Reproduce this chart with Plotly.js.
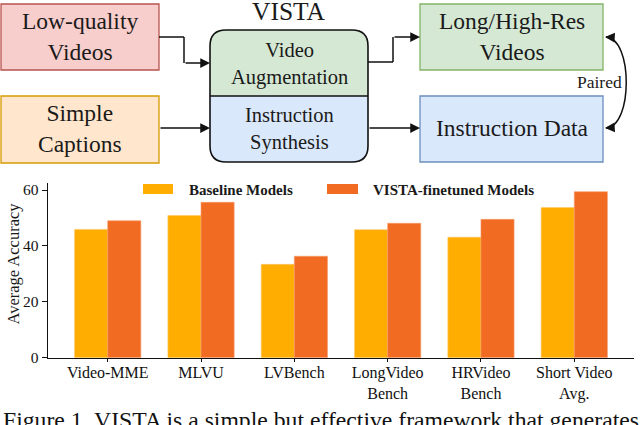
<!DOCTYPE html>
<html>
<head>
<meta charset="utf-8">
<script src="https://cdn.plot.ly/plotly-3.0.1.min.js"></script>
<style>html,body{margin:0;padding:0;background:#fff;}#chart{width:640px;height:425px;}</style>
</head>
<body>
<div id="chart"></div>
<script>
// ---- data ----
const categories = ['Video-MME', 'MLVU', 'LVBench', 'LongVideo<br>Bench', 'HRVideo<br>Bench', 'Short Video<br>Avg.'];
const baselineValues = [45.9, 50.9, 33.4, 45.8, 43.1, 53.7];
const vistaValues = [49.0, 55.6, 36.3, 48.1, 49.5, 59.4];
const seriesNames = ['Baseline Models', 'VISTA-finetuned Models'];
const yTicks = [0, 20, 40, 60];
const captionText = 'Figure 1. VISTA is a simple but effective framework that generates';

// ---- styling ----
const W = 640, H = 425;
const X = p => p / W;
const Y = p => 1 - p / H;
const SERIF = '"Liberation Serif", "Times New Roman", serif';
const cBase = '#FFAD00', cVista = '#F26B23';

const traces = [
  {type: 'bar', x: categories, y: baselineValues, name: seriesNames[0], marker: {color: cBase, line: {color: '#FFC766', width: 0.6}}, showlegend: false},
  {type: 'bar', x: categories, y: vistaValues, name: seriesNames[1], marker: {color: cVista, line: {color: '#F79A6A', width: 0.6}}, showlegend: false}
];

const shapes = [];
const annotations = [];
function rect(x0, y0, x1, y1, fill, line, lw) {
  shapes.push({type: 'rect', xref: 'paper', yref: 'paper', x0: X(x0), x1: X(x1), y0: Y(y1), y1: Y(y0), fillcolor: fill, line: {color: line, width: lw || 1.3}, layer: 'above'});
}
function seg(x0, y0, x1, y1) {
  shapes.push({type: 'line', xref: 'paper', yref: 'paper', x0: X(x0), x1: X(x1), y0: Y(y0), y1: Y(y1), line: {color: '#111', width: 1.5}, layer: 'above'});
}
function arrowTo(x, y, dx, dy) {
  annotations.push({xref: 'paper', yref: 'paper', x: X(x), y: Y(y), ax: dx, ay: dy, text: '', showarrow: true, arrowhead: 2, arrowsize: 1.3, arrowwidth: 1.5, arrowcolor: '#111', standoff: 0});
}
function label(text, x, y, size, opts) {
  annotations.push(Object.assign({xref: 'paper', yref: 'paper', x: X(x), y: Y(y), text: text, showarrow: false, xanchor: 'center', yanchor: 'middle', font: {family: SERIF, size: size, color: '#1a1a1a'}}, opts || {}));
}
function P(x, y) { return X(x).toFixed(5) + ',' + Y(y).toFixed(5); }

// input boxes
rect(1, 4, 159, 70, '#F8CECC', '#B85450');
label('Low-quality<br>Videos', 80, 37, 23.5);
rect(1, 96, 159, 163, '#FFE6CC', '#D79B00');
label('Simple<br>Captions', 80, 129, 23.5);
// output boxes
rect(420, 4, 603, 70, '#D5E8D4', '#82B366');
label('Long/High-Res<br>Videos', 512, 37, 23.5);
rect(420, 96, 603, 162, '#DAE8FC', '#6C8EBF');
label('Instruction Data', 512, 128, 23.5);

// VISTA rounded box
const bx0 = 210, bx1 = 368, by0 = 30, by1 = 162, bmid = 96, r = 16;
shapes.push({type: 'path', xref: 'paper', yref: 'paper', layer: 'above', fillcolor: '#D5E8D4', line: {width: 0},
  path: 'M' + P(bx0, bmid) + ' L' + P(bx0, by0 + r) + ' Q' + P(bx0, by0) + ' ' + P(bx0 + r, by0) + ' L' + P(bx1 - r, by0) + ' Q' + P(bx1, by0) + ' ' + P(bx1, by0 + r) + ' L' + P(bx1, bmid) + ' Z'});
shapes.push({type: 'path', xref: 'paper', yref: 'paper', layer: 'above', fillcolor: '#DAE8FC', line: {width: 0},
  path: 'M' + P(bx0, bmid) + ' L' + P(bx0, by1 - r) + ' Q' + P(bx0, by1) + ' ' + P(bx0 + r, by1) + ' L' + P(bx1 - r, by1) + ' Q' + P(bx1, by1) + ' ' + P(bx1, by1 - r) + ' L' + P(bx1, bmid) + ' Z'});
shapes.push({type: 'path', xref: 'paper', yref: 'paper', layer: 'above', line: {color: '#111', width: 1.6},
  path: 'M' + P(bx0, by0 + r) + ' Q' + P(bx0, by0) + ' ' + P(bx0 + r, by0) + ' L' + P(bx1 - r, by0) + ' Q' + P(bx1, by0) + ' ' + P(bx1, by0 + r) + ' L' + P(bx1, by1 - r) + ' Q' + P(bx1, by1) + ' ' + P(bx1 - r, by1) + ' L' + P(bx0 + r, by1) + ' Q' + P(bx0, by1) + ' ' + P(bx0, by1 - r) + ' Z'});
seg(bx0, bmid, bx1, bmid);
label('VISTA', 289, 12, 25.5);
label('Video<br>Augmentation', 289, 64, 20.5);
label('Instruction<br>Synthesis', 289, 129, 20.5);

// connectors
seg(159, 37, 184, 37); seg(184, 37, 184, 63); arrowTo(210, 63, -26, 0);
arrowTo(210, 128, -51, 0);
seg(368, 62, 393, 62); seg(393, 62, 393, 37); arrowTo(420, 37, -27, 0);
arrowTo(420, 128, -52, 0);
// paired curve
shapes.push({type: 'path', xref: 'paper', yref: 'paper', layer: 'above', line: {color: '#111', width: 1.5},
  path: 'M' + P(606, 37) + ' C' + P(633, 38) + ' ' + P(633, 127) + ' ' + P(606, 128)});
arrowTo(605, 37, 9, 0.5);
arrowTo(605, 128, 9, -0.5);
label('Paired', 599, 82, 17.5);

// legend (manual)
shapes.push({type: 'rect', xref: 'paper', yref: 'paper', x0: X(143), x1: X(173), y0: Y(194), y1: Y(184), fillcolor: cBase, line: {width: 0}});
label('<b>' + seriesNames[0] + '</b>', 187, 190, 15, {xanchor: 'left'});
shapes.push({type: 'rect', xref: 'paper', yref: 'paper', x0: X(327), x1: X(358), y0: Y(194), y1: Y(184), fillcolor: cVista, line: {width: 0}});
label('<b>' + seriesNames[1] + '</b>', 371, 190, 15, {xanchor: 'left'});

// y-axis title & caption
label('Average Accuracy', 13, 263.5, 16.5, {textangle: -90});
label(captionText, 1, 405, 23.7, {xanchor: 'left', yanchor: 'top', font: {family: SERIF, size: 23.7, color: '#111'}});

const layout = {
  width: W, height: H,
  margin: {l: 0, r: 0, t: 0, b: 0},
  paper_bgcolor: '#fff', plot_bgcolor: '#fff',
  barmode: 'group', bargap: 0.29, bargroupgap: 0,
  font: {family: SERIF, color: '#111'},
  xaxis: {domain: [X(48), X(634)], range: [-0.64, 5.64], showline: true, linecolor: '#111', linewidth: 1.3,
    ticks: 'outside', ticklen: 3, tickcolor: '#111', ticklabelstandoff: -3, tickfont: {family: SERIF, size: 16, color: '#111'}, automargin: false, fixedrange: true},
  yaxis: {domain: [Y(357.7), Y(183.3)], range: [0, 62.4], tickvals: yTicks, showgrid: false, zeroline: false, showline: true, linecolor: '#111', linewidth: 1.3,
    ticks: 'outside', ticklen: 5, tickcolor: '#111', tickfont: {family: SERIF, size: 15.5, color: '#111'}, automargin: false, fixedrange: true},
  shapes: shapes,
  annotations: annotations,
  showlegend: false
};
Plotly.newPlot('chart', traces, layout, {staticPlot: true, displayModeBar: false});
</script>
</body>
</html>
